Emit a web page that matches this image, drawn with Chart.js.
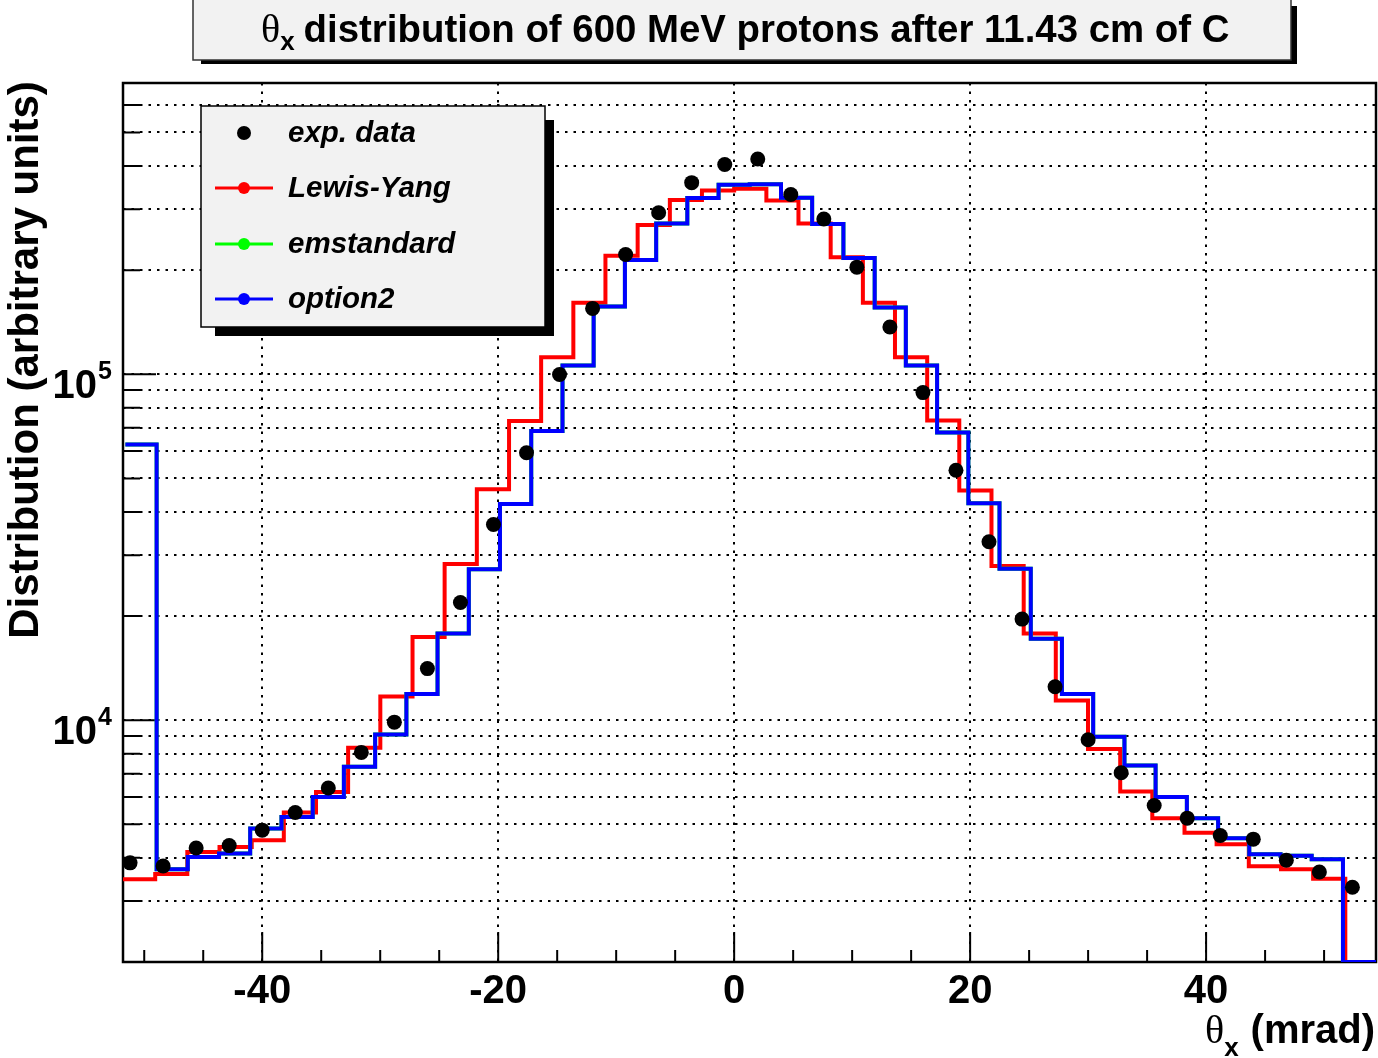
<!DOCTYPE html>
<html>
<head>
<meta charset="utf-8">
<script src="https://cdn.jsdelivr.net/npm/chart.js@4.4.1/dist/chart.umd.min.js"></script>
<style>
  html, body { margin: 0; padding: 0; background: #fff; }
  canvas { display: block; }
</style>
</head>
<body>
<canvas id="chart" width="1378" height="1058"></canvas>
<script>
// measured points: theta_x (mrad) and counts
const expTheta = [-51.2, -48.4, -45.6, -42.8, -40.0, -37.2, -34.4, -31.6, -28.8, -26.0,
    -23.2, -20.4, -17.6, -14.8, -12.0, -9.2, -6.4, -3.6, -0.8, 2.0,
    4.8, 7.6, 10.4, 13.2, 16.0, 18.8, 21.6, 24.4, 27.2, 30.0,
    32.8, 35.6, 38.4, 41.2, 44.0, 46.8, 49.6, 52.4]
const expCounts = [3870, 3790, 4270, 4340, 4810, 5410, 6370, 8070, 9870, 14100,
    21900, 36800, 59300, 99800, 155000, 222000, 293000, 358000, 404000, 419000,
    331000, 281000, 204000, 137000, 88500, 52800, 32800, 19600, 12500, 8780,
    7050, 5670, 5210, 4640, 4530, 3940, 3640, 3290]

// Lewis-Yang histogram (bin edges, contents)
const lewisEdges = [-51.80, -49.07, -46.35, -43.62, -40.89, -38.17, -35.44, -32.72, -29.99, -27.26,
    -24.54, -21.81, -19.08, -16.36, -13.63, -10.91, -8.18, -5.45, -2.73, 0.00,
    2.73, 5.45, 8.18, 10.91, 13.63, 16.36, 19.08, 21.81, 24.54, 27.26,
    29.99, 32.72, 35.44, 38.17, 40.89, 43.62, 46.35, 49.07, 51.80, 54.40]
const lewisCounts = [3470, 3590, 4160, 4300, 4500, 5410, 6200, 8320, 11700, 17400,
    28300, 46500, 73300, 112000, 161000, 220000, 270000, 319000, 340000, 344000,
    318000, 273000, 218000, 161000, 112000, 73500, 46100, 27900, 17800, 11400,
    8260, 6220, 5210, 4730, 4380, 3780, 3710, 3480, 0]

// option2 histogram
const option2Edges = [-51.60, -48.95, -46.31, -43.66, -41.02, -38.37, -35.72, -33.08, -30.43, -27.78,
    -25.14, -22.49, -19.85, -17.20, -14.55, -11.91, -9.26, -6.61, -3.97, -1.32,
    1.32, 3.97, 6.61, 9.26, 11.91, 14.55, 17.20, 19.85, 22.49, 25.14,
    27.78, 30.43, 33.08, 35.72, 38.37, 41.02, 43.66, 46.31, 48.95, 51.60, 54.40]
const option2Counts = [62700, 3710, 4020, 4120, 4860, 5250, 6000, 7330, 9090, 11900,
    17800, 27300, 42200, 68600, 106000, 157000, 214000, 273000, 323000, 353000,
    354000, 324000, 272000, 217000, 156000, 106000, 67900, 42400, 27400, 17200,
    11900, 8950, 7400, 6000, 5210, 4560, 4100, 4060, 3960, 0]

// emstandard is not visible anywhere: it sits under option2
const emstandardEdges = option2Edges
const emstandardCounts = option2Counts

const xMajorTicks = [-40, -20, 0, 20, 40]
const xTickLabels = ['-40', '-20', '0', '20', '40']
const xMinorTicks = [-50, -45, -35, -30, -25, -15, -10, -5, 5, 10, 15, 25, 30, 35, 45, 50]
const yMajorTicks = [1e4, 1e5]
const yTickExponents = ['4', '5']
const yMinorTicks = [3000, 4000, 5000, 6000, 7000, 8000, 9000,
    20000, 30000, 40000, 50000, 60000, 70000, 80000, 90000,
    200000, 300000, 400000, 500000, 600000]

const X_MIN = -51.8, X_MAX = 54.4
const Y_MIN = 2000, Y_MAX = 6.95e5

const BOLD = '"Liberation Sans", Arial, sans-serif'
const SYMBOL = '"Liberation Serif", "DejaVu Serif", serif'

// histogram as a step line; empty bins lie on the frame like ROOT draws them
function steps(edges, counts) {
    const pts = []
    counts.forEach((c, i) => {
        const y = c > 0 ? c : Y_MIN
        pts.push({ x: edges[i], y: y }, { x: edges[i + 1], y: y })
    })
    return pts
}

function histo(label, color, edges, counts) {
    return {
        label: label,
        data: steps(edges, counts),
        showLine: true,
        borderColor: color,
        backgroundColor: color,
        borderWidth: 4,
        pointRadius: 0,
        tension: 0,
        borderJoinStyle: 'miter',
        borderCapStyle: 'butt'
    }
}

// draws a list of text pieces one after another from x on baseline y
function textRun(ctx, x, y, parts) {
    parts.forEach(p => {
        ctx.font = p.font
        ctx.fillText(p.text, x, y + (p.dy || 0))
        x += ctx.measureText(p.text).width + (p.gap || 0)
    })
}

const rootFrame = {
    id: 'rootFrame',
    beforeDatasetsDraw(chart) {
        const { ctx, chartArea: a, scales: { x, y } } = chart
        ctx.save()
        ctx.strokeStyle = '#000'
        ctx.lineWidth = 2
        ctx.beginPath()
        xMajorTicks.forEach(v => { const px = x.getPixelForValue(v); ctx.moveTo(px, a.bottom); ctx.lineTo(px, a.bottom - 30) })
        xMinorTicks.forEach(v => { const px = x.getPixelForValue(v); ctx.moveTo(px, a.bottom); ctx.lineTo(px, a.bottom - 12) })
        yMajorTicks.forEach(v => { const py = y.getPixelForValue(v); ctx.moveTo(a.left, py); ctx.lineTo(a.left + 33, py) })
        yMinorTicks.forEach(v => { const py = y.getPixelForValue(v); ctx.moveTo(a.left, py); ctx.lineTo(a.left + 17, py) })
        ctx.stroke()
        ctx.lineWidth = 2.5
        ctx.strokeRect(a.left, a.top, a.right - a.left, a.bottom - a.top)
        ctx.restore()
    },
    afterDraw(chart) {
        const { ctx, scales: { x, y } } = chart
        ctx.save()
        ctx.fillStyle = '#000'

        // tick labels
        ctx.textAlign = 'center'
        ctx.font = 'bold 40px ' + BOLD
        xMajorTicks.forEach((v, i) => ctx.fillText(xTickLabels[i], x.getPixelForValue(v), 1003))
        yMajorTicks.forEach((v, i) => {
            const py = y.getPixelForValue(v)
            ctx.textAlign = 'right'
            ctx.font = 'bold 40px ' + BOLD
            ctx.fillText('10', 97, py + 24)
            ctx.textAlign = 'left'
            ctx.font = 'bold 25px ' + BOLD
            ctx.fillText(yTickExponents[i], 98, py + 5)
        })

        // axis titles
        ctx.textAlign = 'left'
        textRun(ctx, 1205, 1043, [
            { text: '\u03b8', font: '40px ' + SYMBOL },
            { text: 'x', font: 'bold 26px ' + BOLD, dy: 13, gap: 12 },
            { text: '(mrad)', font: 'bold 40px ' + BOLD }
        ])
        ctx.save()
        ctx.translate(38, 360)
        ctx.rotate(-Math.PI / 2)
        ctx.textAlign = 'center'
        ctx.font = 'bold 42px ' + BOLD
        ctx.fillText('Distribution (arbitrary units)', 0, 0)
        ctx.restore()

        // title box
        ctx.fillStyle = '#000'
        ctx.fillRect(201, 6, 1096, 58)
        ctx.fillStyle = '#f2f2f2'
        ctx.fillRect(193, -2, 1098, 62)
        ctx.strokeStyle = '#333'
        ctx.lineWidth = 1.5
        ctx.strokeRect(193, -2, 1098, 62)
        ctx.fillStyle = '#000'
        textRun(ctx, 261, 42, [
            { text: '\u03b8', font: '40px ' + SYMBOL },
            { text: 'x', font: 'bold 26px ' + BOLD, dy: 8, gap: 9 },
            { text: 'distribution of 600 MeV protons after 11.43 cm of C', font: 'bold 38.4px ' + BOLD }
        ])

        // legend box
        ctx.fillStyle = '#000'
        ctx.fillRect(215, 120, 339, 216)
        ctx.fillStyle = '#f2f2f2'
        ctx.fillRect(201, 106, 344, 221)
        ctx.strokeStyle = '#000'
        ctx.lineWidth = 1.5
        ctx.strokeRect(201, 106, 344, 221)
        const rows = [133, 188, 244, 299]
        const ds = chart.data.datasets
        const entries = [ds[0], ds[3], ds[2], ds[1]]
        entries.forEach((d, i) => {
            const ry = rows[i]
            if (d.showLine) {
                ctx.strokeStyle = d.borderColor
                ctx.lineWidth = 3
                ctx.beginPath()
                ctx.moveTo(215, ry)
                ctx.lineTo(273, ry)
                ctx.stroke()
                ctx.fillStyle = d.borderColor
                ctx.beginPath()
                ctx.arc(244, ry, 6, 0, Math.PI * 2)
                ctx.fill()
            } else {
                ctx.fillStyle = '#000'
                ctx.beginPath()
                ctx.arc(244, ry, 7, 0, Math.PI * 2)
                ctx.fill()
            }
            ctx.fillStyle = '#000'
            ctx.textAlign = 'left'
            ctx.font = 'italic bold 29.5px ' + BOLD
            ctx.fillText(d.label, 288, ry + 9)
        })
        ctx.restore()
    }
}

const gridOpts = { color: '#000', lineWidth: 2, drawTicks: false }

new Chart(document.getElementById('chart'), {
    type: 'scatter',
    data: {
        datasets: [
            {
                label: 'exp. data',
                data: expTheta.map((t, i) => ({ x: t, y: expCounts[i] })),
                showLine: false,
                pointRadius: 7.5,
                pointBackgroundColor: '#000',
                pointBorderWidth: 0
            },
            histo('option2', '#0000ff', option2Edges, option2Counts),
            histo('emstandard', '#00ff00', emstandardEdges, emstandardCounts),
            histo('Lewis-Yang', '#ff0000', lewisEdges, lewisCounts)
        ]
    },
    options: {
        responsive: false,
        animation: false,
        devicePixelRatio: 1,
        layout: { autoPadding: false, padding: { top: 83, right: 2, left: 0, bottom: 0 } },
        plugins: {
            legend: { display: false },
            tooltip: { enabled: false }
        },
        scales: {
            x: {
                type: 'linear',
                min: X_MIN,
                max: X_MAX,
                afterBuildTicks: s => { s.ticks = xMajorTicks.map(v => ({ value: v })) },
                afterFit: s => { s.height = 96 },
                ticks: { display: false },
                grid: gridOpts,
                border: { display: false, dash: [2.5, 6] }
            },
            y: {
                type: 'logarithmic',
                min: Y_MIN,
                max: Y_MAX,
                afterBuildTicks: s => { s.ticks = yMajorTicks.concat(yMinorTicks).map(v => ({ value: v })) },
                afterFit: s => { s.width = 123 },
                ticks: { display: false },
                grid: gridOpts,
                border: { display: false, dash: [2.5, 6] }
            }
        }
    },
    plugins: [rootFrame]
})
</script>
</body>
</html>
